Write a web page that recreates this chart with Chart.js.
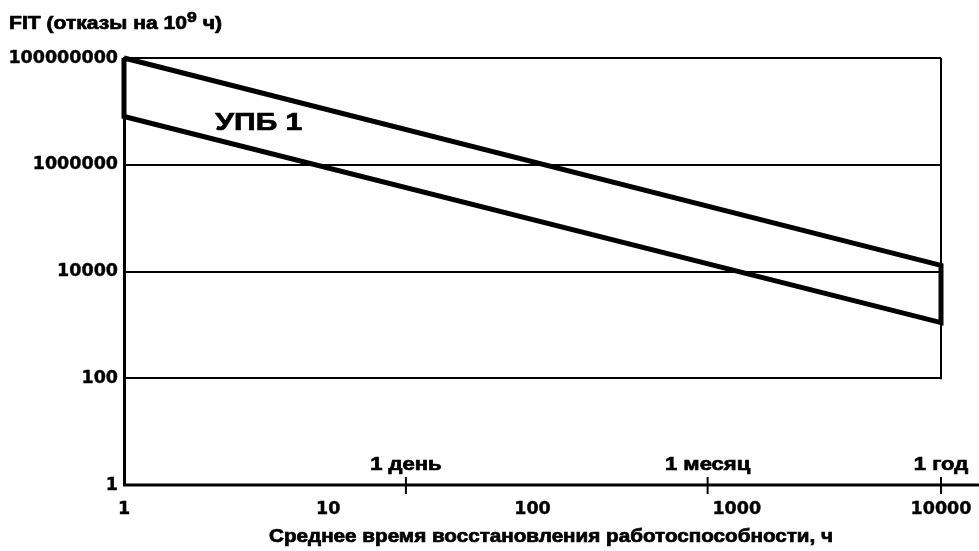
<!DOCTYPE html>
<html>
<head>
<meta charset="utf-8">
<script src="https://cdn.jsdelivr.net/npm/chart.js@4.4.1/dist/chart.umd.min.js"></script>
<style>
  html, body { margin: 0; padding: 0; background: #fff; }
  #wrap { width: 979px; height: 551px; position: relative; }
</style>
</head>
<body>
<div id="wrap"><canvas id="canvas"></canvas></div>
<script>
// Ось X: среднее время восстановления, ч
const hourTicks = [1, 10, 100, 1000, 10000]
// Ось Y: FIT (отказы на 10^9 ч)
const fitTicks = [1, 100, 10000, 1000000, 100000000]

// Границы области УПБ 1
const upperHours = [1, 10000]
const upperFit = [100000000, 13000]
const lowerHours = [1, 10000]
const lowerFit = [8000000, 1100]

// Отметки периодов на оси X
const periodLabels = ['1 день', '1 месяц', '1 год']
const periodHours = [24, 720, 10000]

// Подпись области
const bandName = 'УПБ 1'
const bandNameAt = [2.8, 4400000]

const yTitle = ['FIT (отказы на 10', '9', ' ч)']
const xTitle = 'Среднее время восстановления работоспособности, ч'

const FONT = '"Liberation Sans", Arial, sans-serif'
const TICK_FONT = { family: '"DejaVu Sans", sans-serif', size: 17.5, weight: 'bold' }

// Контур полосы: верхняя линия, правая кромка, нижняя линия, левая кромка
const outline = [
  { x: upperHours[0], y: upperFit[0] },
  { x: upperHours[1], y: upperFit[1] },
  { x: lowerHours[1], y: lowerFit[1] },
  { x: lowerHours[0], y: lowerFit[0] },
  { x: upperHours[0], y: upperFit[0] },
]

// Текст, растянутый по ширине (как в оригинале)
function wideText(ctx, str, x, y, size, width, align) {
  ctx.save()
  ctx.font = 'bold ' + size + 'px ' + FONT
  const k = width / ctx.measureText(str).width
  ctx.translate(x, y)
  ctx.scale(k, 1)
  ctx.textAlign = align
  ctx.textBaseline = 'alphabetic'
  ctx.fillStyle = '#000'
  ctx.strokeStyle = '#000'
  ctx.lineWidth = 0.7
  ctx.fillText(str, 0, 0)
  ctx.strokeText(str, 0, 0)
  ctx.restore()
}

const extras = {
  id: 'extras',
  afterDraw(chart) {
    const { ctx, chartArea: a, scales: { x, y } } = chart
    ctx.save()
    ctx.strokeStyle = '#000'
    ctx.lineCap = 'butt'

    // нижняя ось, выходит за правую границу
    ctx.lineWidth = 3
    ctx.beginPath()
    ctx.moveTo(a.left - 1, a.bottom)
    ctx.lineTo(979, a.bottom)
    ctx.stroke()

    // правая рамка до линии 100
    ctx.lineWidth = 2
    ctx.beginPath()
    ctx.moveTo(a.right, a.top)
    ctx.lineTo(a.right, y.getPixelForValue(fitTicks[1]) + 1)
    ctx.stroke()

    // отметки периодов
    periodHours.forEach((h, i) => {
      const px = x.getPixelForValue(h)
      ctx.strokeStyle = '#000'
      ctx.lineWidth = 2
      ctx.beginPath()
      ctx.moveTo(px, a.bottom - 8)
      ctx.lineTo(px, a.bottom + 9)
      ctx.stroke()
      ctx.font = 'bold 19px ' + FONT
      const w = ctx.measureText(periodLabels[i]).width * 1.16
      wideText(ctx, periodLabels[i], px, a.bottom - 15, 19, w, 'center')
    })

    // подпись полосы
    wideText(ctx, bandName, x.getPixelForValue(bandNameAt[0]), y.getPixelForValue(bandNameAt[1]), 24, 87, 'left')

    // заголовок оси X
    wideText(ctx, xTitle, 551, 542, 18, 564, 'center')

    // заголовок оси Y с показателем степени
    const sizes = [18, 15, 18]
    const lifts = [0, -7, 0]
    let total = 0
    yTitle.forEach((s, i) => {
      ctx.font = 'bold ' + sizes[i] + 'px ' + FONT
      total += ctx.measureText(s).width
    })
    const k = 213 / total
    let cx = 9
    yTitle.forEach((s, i) => {
      ctx.font = 'bold ' + sizes[i] + 'px ' + FONT
      const w = ctx.measureText(s).width * k
      wideText(ctx, s, cx, 29 + lifts[i], sizes[i], w, 'left')
      cx += w
    })
    ctx.restore()
  }
}

const config = {
  type: 'scatter',
  data: {
    datasets: [{
      label: bandName,
      data: outline,
      showLine: true,
      borderColor: '#000',
      borderWidth: 5,
      pointRadius: 0,
      fill: false,
      clip: false,
      borderJoinStyle: 'miter',
    }],
  },
  options: {
    responsive: true,
    maintainAspectRatio: false,
    animation: false,
    layout: { padding: { top: 58, right: 38, left: 0, bottom: 0 } },
    plugins: { legend: { display: false }, tooltip: { enabled: false } },
    scales: {
      x: {
        type: 'logarithmic',
        min: hourTicks[0],
        max: hourTicks[hourTicks.length - 1],
        afterBuildTicks: s => { s.ticks = hourTicks.map(v => ({ value: v })) },
        afterFit: s => { s.height = 66; s.paddingLeft = 0; s.paddingRight = 0 },
        grid: { display: false, drawTicks: false },
        border: { display: false },
        ticks: {
          callback: v => String(v),
          color: '#000',
          font: TICK_FONT,
          textStrokeColor: '#000',
          textStrokeWidth: 0.4,
          padding: 14,
          maxRotation: 0,
          autoSkip: false,
        },
      },
      y: {
        type: 'logarithmic',
        min: fitTicks[0],
        max: fitTicks[fitTicks.length - 1],
        afterBuildTicks: s => { s.ticks = fitTicks.map(v => ({ value: v })) },
        afterFit: s => { s.width = 124 },
        grid: { color: '#000', lineWidth: 2, drawTicks: false },
        border: { display: true, color: '#000', width: 3 },
        ticks: {
          callback: v => String(v),
          color: '#000',
          font: TICK_FONT,
          textStrokeColor: '#000',
          textStrokeWidth: 0.4,
          padding: 6,
          autoSkip: false,
        },
      },
    },
  },
  plugins: [extras],
}

const chart = new Chart(document.getElementById('canvas'), config)
</script>
</body>
</html>
